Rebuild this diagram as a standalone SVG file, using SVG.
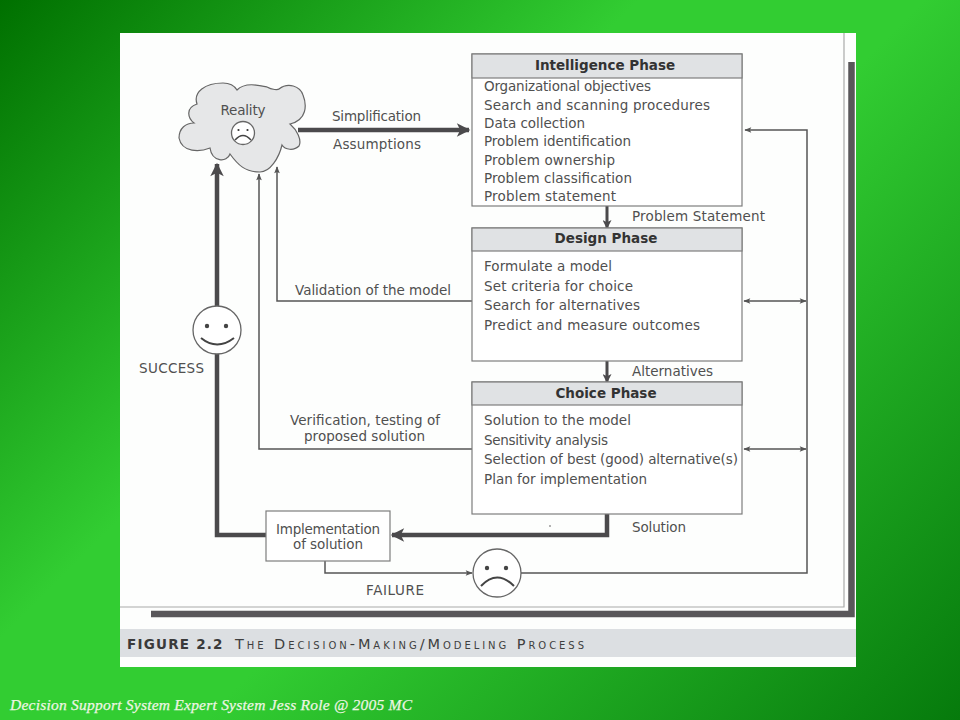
<svg xmlns="http://www.w3.org/2000/svg" width="960" height="720" viewBox="0 0 960 720">
<style>
text{font-family:"DejaVu Sans","Liberation Sans",sans-serif;font-size:13.500px;fill:#505050}
.h{font-weight:bold;fill:#333;text-anchor:middle}
.m{text-anchor:middle}
.box{fill:#fff;stroke:#7d7d7d;stroke-width:1.2}
.head{fill:#e0e2e4;stroke:#7d7d7d;stroke-width:1.2}
.thick{fill:none;stroke:#4b4a4c;stroke-width:4.500}
.mid{fill:none;stroke:#4b4a4c;stroke-width:3}
.thin{fill:none;stroke:#555;stroke-width:1.500}
.face{fill:#fff;stroke:#666;stroke-width:1.300}
.mouth{fill:none;stroke:#444;stroke-width:1.500}
</style>
<defs>
<linearGradient id="bg" gradientUnits="userSpaceOnUse" x1="0" y1="0" x2="840" y2="840">
<stop offset="0" stop-color="#007000"/><stop offset=".38" stop-color="#32cd32"/><stop offset=".55" stop-color="#32cd32"/><stop offset="1" stop-color="#067a0c"/>
</linearGradient>
<marker id="a" viewBox="0 0 10 10" refX="9" refY="5" markerWidth="3.400" markerHeight="3" orient="auto"><path d="M0 0L10 5L0 10L2.500 5Z" fill="#4b4a4c"/></marker>
<marker id="b" viewBox="0 0 10 10" refX="9" refY="5" markerWidth="9" markerHeight="7" markerUnits="userSpaceOnUse" orient="auto-start-reverse"><path d="M0 1L10 5L0 9L2 5Z" fill="#555"/></marker>
</defs>
<rect width="960" height="720" fill="url(#bg)"/>
<rect x="120" y="33" width="736" height="634" fill="#fdfefd"/>
<path d="M120 607H844V33" fill="none" stroke="#aaa" stroke-width="1.200"/>
<path d="M851.500 62V614H151" fill="none" stroke="#59575a" stroke-width="6.500"/>
<rect x="120" y="629" width="736" height="28" fill="#dcdfe2"/>
<text x="127" y="648.500" style="font-weight:bold;font-size:13.500px;letter-spacing:.5px;fill:#3a3a3a" textLength="96">FIGURE 2.2</text>
<text x="235" y="648.500" style="font-size:14.500px;font-variant:small-caps;fill:#3f3f3f" textLength="349">The Decision-Making/Modeling Process</text>

<g id="connectors">
<path class="thick" d="M298 130H469" marker-end="url(#a)"/>
<path class="mid" d="M607 206V228" marker-end="url(#a)"/>
<path class="mid" d="M607 361V382" marker-end="url(#a)"/>
<path class="thick" d="M607 514V535H392" marker-end="url(#a)"/>
<path class="thick" d="M266 535H217V164" marker-end="url(#a)"/>
<path class="thin" d="M472 301H277V167" marker-end="url(#b)"/>
<path class="thin" d="M472 449H259V174" marker-end="url(#b)"/>
<path class="thin" d="M521 573H807V130H745" marker-end="url(#b)"/>
<path class="thin" d="M744 301H806" marker-start="url(#b)" marker-end="url(#b)"/>
<path class="thin" d="M744 449H806" marker-start="url(#b)" marker-end="url(#b)"/>
<path class="thin" d="M325 561V573H472" marker-end="url(#b)"/>
</g>

<g id="reality">
<path d="M210 148C200 152 182 153 179 138C179 128 186 123 194 123C188 118 185 108 197 104C193 92 205 83 223 83C229 83 234 85 237 90C245 82 258 85 267 87C272 90 278 90 279 89C288 82 300 86 303 95C307 105 307 120 290 124C297 130 302 140 299 146C294 151 285 150 282 145C279 158 270 172 260 172C245 172 238 165 230 154C227 163 212 162 210 148Z" fill="#e6e7e8" stroke="#666" stroke-width="1.200"/>
<text class="m" x="243" y="115" textLength="45">Reality</text>
<circle class="face" cx="243" cy="133" r="11.500"/>
<circle cx="238.500" cy="130" r="1.100" fill="#333"/><circle cx="247.500" cy="130" r="1.100" fill="#333"/>
<path class="mouth" d="M235 140Q243 131 251 140"/>
</g>
<text x="332" y="121" textLength="89">Simplification</text>
<text x="333" y="149" textLength="88">Assumptions</text>

<g id="intelligence">
<rect class="box" x="472" y="54" width="270" height="152"/>
<rect class="head" x="472" y="54" width="270" height="24"/>
<text class="h" x="605" y="70">Intelligence Phase</text>
<text x="484" y="91" textLength="167">Organizational objectives</text>
<text x="484" y="109.500" textLength="226">Search and scanning procedures</text>
<text x="484" y="128" textLength="101">Data collection</text>
<text x="484" y="146" textLength="147">Problem identification</text>
<text x="484" y="164.500" textLength="131">Problem ownership</text>
<text x="484" y="182.500" textLength="148">Problem classification</text>
<text x="484" y="201" textLength="132">Problem statement</text>
</g>
<text x="632" y="221" textLength="133">Problem Statement</text>

<g id="design">
<rect class="box" x="472" y="228" width="270" height="133"/>
<rect class="head" x="472" y="228" width="270" height="23"/>
<text class="h" x="606" y="243">Design Phase</text>
<text x="484" y="271" textLength="128">Formulate a model</text>
<text x="484" y="291" textLength="149">Set criteria for choice</text>
<text x="484" y="310" textLength="156">Search for alternatives</text>
<text x="484" y="330" textLength="216">Predict and measure outcomes</text>
</g>
<text x="295" y="295" textLength="156">Validation of the model</text>
<text x="632" y="376" textLength="81">Alternatives</text>

<g id="choice">
<rect class="box" x="472" y="382" width="270" height="132"/>
<rect class="head" x="472" y="382" width="270" height="23"/>
<text class="h" x="606" y="398">Choice Phase</text>
<text x="484" y="425" textLength="147">Solution to the model</text>
<text x="484" y="445" textLength="124">Sensitivity analysis</text>
<text x="484" y="464" textLength="254">Selection of best (good) alternative(s)</text>
<text x="484" y="484" textLength="163">Plan for implementation</text>
</g>
<text x="290" y="425" textLength="150">Verification, testing of</text>
<text x="304" y="441" textLength="121">proposed solution</text>
<text x="632" y="532" textLength="54">Solution</text>
<circle cx="550" cy="526" r=".8" fill="#555"/>

<g id="implementation">
<rect class="box" x="266" y="511" width="124" height="50"/>
<text x="276" y="534" textLength="104">Implementation</text>
<text x="293" y="549" textLength="70">of solution</text>
</g>
<g id="success">
<circle class="face" cx="217" cy="330" r="24"/>
<circle cx="207" cy="326" r="2.200" fill="#444"/><circle cx="226" cy="326" r="2.200" fill="#444"/>
<path class="mouth" d="M201 338Q217 351 234 338" style="stroke-width:2"/>
</g>
<text x="139" y="373" textLength="65">SUCCESS</text>
<g id="failure">
<circle class="face" cx="497" cy="573" r="24"/>
<circle cx="487" cy="568" r="2.200" fill="#444"/><circle cx="506" cy="568" r="2.200" fill="#444"/>
<path class="mouth" d="M481 586Q497 569 514 586" style="stroke-width:2"/>
</g>
<text x="366" y="595" textLength="58">FAILURE</text>
<text x="10" y="710" style="font-family:'Liberation Serif',serif;font-style:italic;font-size:15.500px;fill:#eef6e4;stroke:#eef6e4;stroke-width:.25" textLength="402">Decision Support System Expert System Jess Role @ 2005 MC</text>
</svg>
